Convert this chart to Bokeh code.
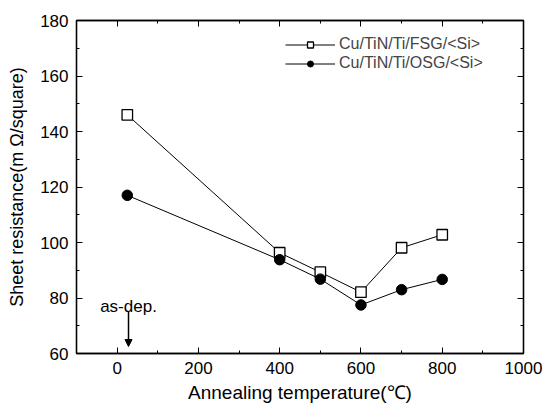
from bokeh.plotting import figure
from bokeh.models import Range1d, LinearAxis, Legend, LegendItem, Arrow, NormalHead, FixedTicker, Label
from bokeh.embed import file_html
from bokeh.resources import INLINE

temps = [25, 400, 500, 600, 700, 800]
fsg = [146, 96.3, 89.3, 82.1, 98.1, 102.8]
osg = [117, 93.8, 86.8, 77.5, 83, 86.7]
x_ticks = [0, 200, 400, 600, 800, 1000]
y_ticks = [60, 80, 100, 120, 140, 160, 180]
FONT = "Liberation Sans"

p = figure(width=544, height=408, output_backend="svg", toolbar_location=None,
           x_range=Range1d(-100, 1000), y_range=Range1d(60, 180),
           min_border_left=76, min_border_top=20, min_border_right=21, min_border_bottom=55,
           x_axis_label="Annealing temperature(℃)", y_axis_label="Sheet resistance(m Ω/square)")
p.grid.visible = False
p.outline_line_color = "black"
p.outline_line_width = 1.3

def style(ax, ticks, labels=True):
    step = ticks[1] - ticks[0]
    ax.ticker = FixedTicker(ticks=ticks, minor_ticks=[t - step / 2 for t in ticks] + [ticks[-1] + step / 2])
    ax.major_tick_in = 6
    ax.major_tick_out = 0
    ax.minor_tick_in = 3
    ax.minor_tick_out = 0
    ax.axis_line_color = "black"
    ax.axis_line_width = 1.3
    ax.major_tick_line_color = "black"
    ax.minor_tick_line_color = "black"
    ax.major_label_text_font = FONT
    ax.major_label_text_font_size = "17px"
    ax.major_label_text_color = "black"
    ax.major_label_standoff = 8
    ax.axis_label_text_font = FONT
    ax.axis_label_text_font_size = "18px"
    ax.axis_label_text_font_style = "normal"
    ax.axis_label_text_color = "black"
    if not labels:
        ax.major_label_text_font_size = "1px"
        ax.major_label_text_color = None
        ax.major_label_standoff = 0

style(p.xaxis[0], x_ticks)
style(p.yaxis[0], y_ticks)
p.xaxis[0].axis_label_text_font_size = "19px"
p.xaxis[0].axis_label_standoff = 5
p.yaxis[0].axis_label_standoff = 10

top = LinearAxis()
right = LinearAxis()
style(top, x_ticks, labels=False)
style(right, y_ticks, labels=False)
p.add_layout(top, "above")
p.add_layout(right, "right")

l1 = p.line(temps, fsg, line_color="black", line_width=1)
s1 = p.scatter(temps, fsg, marker="square", size=10.5, fill_color="white", line_color="black", line_width=1.3)
l2 = p.line(temps, osg, line_color="black", line_width=1)
s2 = p.scatter(temps, osg, marker="circle", size=10.5, fill_color="black", line_color="black")

common = dict(border_line_color=None, background_fill_alpha=0, padding=0, spacing=0, margin=0,
              glyph_width=50, glyph_height=15, label_height=15,
              label_text_font=FONT, label_text_font_size="16px", label_standoff=4)
leg1 = Legend(items=[LegendItem(label="Cu/TiN/Ti/FSG/<Si>", renderers=[l1, s1])],
              location=(209, 300), **common)
leg2 = Legend(items=[LegendItem(label="Cu/TiN/Ti/OSG/<Si>", renderers=[l2, s2])],
              location=(209, 281), **common)
p.add_layout(leg1)
p.add_layout(leg2)

p.add_layout(Arrow(end=NormalHead(size=7, fill_color="black", line_color="black"),
                   x_start=28, y_start=75, x_end=28, y_end=62.5, line_color="black", line_width=1.5))
p.add_layout(Label(x=28, y=77, text="as-dep.", text_align="center", text_baseline="alphabetic",
                   text_font=FONT, text_font_size="17px", text_color="black"))

open("out.html", "w").write(file_html(p, INLINE))
